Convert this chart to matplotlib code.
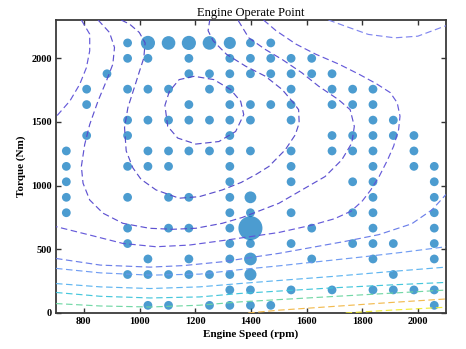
import matplotlib
matplotlib.use('Agg')
import matplotlib.pyplot as plt

plt.rcParams['font.family'] = ['Liberation Serif', 'DejaVu Serif']

# ---------------- operating point data ----------------
speed_grid = [737, 810, 883, 957, 1030, 1104, 1177, 1251, 1324, 1398,
              1471, 1544, 1618, 1691, 1765, 1838, 1911, 1985, 2058]
torque_grid = [60, 181, 302, 424, 545, 666, 787, 908, 1030, 1151,
               1272, 1393, 1514, 1636, 1757, 1878, 1999, 2120]

# row index (torque) -> list of column indices (speed) with an operating point
occupied_rows = {
    0: [4, 5, 7, 8, 9, 10, 18],
    1: [8, 9, 11, 13, 15, 16, 17, 18],
    2: [3, 4, 5, 6, 7, 8, 9, 16],
    3: [4, 6, 8, 9, 12, 15, 18],
    4: [3, 8, 9, 11, 14, 15, 16, 18],
    5: [3, 5, 6, 8, 9, 12, 15, 18],
    6: [0, 8, 9, 11, 14, 15, 18],
    7: [0, 3, 5, 6, 8, 9, 15, 18],
    8: [0, 8, 11, 14, 15, 18],
    9: [0, 3, 4, 5, 8, 11, 15, 17, 18],
    10: [0, 4, 5, 6, 7, 8, 9, 11, 13, 14, 15, 17],
    11: [1, 3, 8, 13, 14, 15, 16, 17],
    12: [3, 4, 5, 6, 7, 8, 9, 11, 15, 16],
    13: [1, 6, 8, 9, 10, 11, 13, 14, 15],
    14: [1, 3, 4, 5, 7, 8, 11, 13, 14, 15],
    15: [2, 6, 7, 8, 9, 10, 11, 12, 13],
    16: [3, 4, 6, 8, 9, 10, 11, 12],
    17: [3, 4, 5, 6, 7, 8, 9, 10],
}
# relative dwell counts (default 1)
dwell_counts = {
    (17, 4): 2.6, (17, 5): 2.4, (17, 6): 2.6, (17, 7): 2.4, (17, 8): 1.9,
    (7, 9): 1.8, (5, 9): 7.5, (3, 9): 2.1, (2, 9): 1.9,
}

op_speed, op_torque, op_count = [], [], []
for r, cols in occupied_rows.items():
    for c in cols:
        op_speed.append(speed_grid[c])
        op_torque.append(torque_grid[r])
        op_count.append(dwell_counts.get((r, c), 1.0))

# ---------------- BSFC iso-lines (rpm, Nm) ----------------
iso_1 = [(1196, 1858), (1142, 1832), (1107, 1740), (1091, 1630), (1101, 1465),
         (1137, 1373), (1202, 1326), (1285, 1346), (1345, 1425), (1374, 1557),
         (1363, 1661), (1327, 1753), (1267, 1832), (1196, 1858)]
iso_2 = [(934, 2300), (964, 2268), (999, 2202), (1020, 2120), (1015, 2000),
         (1000, 1900), (985, 1796), (958, 1612), (946, 1455), (952, 1272),
         (976, 1139), (1005, 1050), (1059, 966), (1142, 901), (1214, 913),
         (1297, 966), (1365, 1025), (1420, 1090), (1464, 1150), (1523, 1281),
         (1559, 1399), (1573, 1491), (1571, 1596), (1553, 1649), (1512, 1754),
         (1452, 1858), (1381, 1937), (1312, 2031), (1264, 2137), (1246, 2216),
         (1252, 2300)]
iso_3 = [(851, 2300), (892, 2202), (910, 2084), (904, 1953), (881, 1822),
         (851, 1665), (821, 1480), (803, 1323), (791, 1150), (797, 1019),
         (821, 887), (869, 783), (940, 704), (1035, 665), (1119, 657),
         (1202, 665), (1297, 704), (1369, 750), (1428, 800), (1500, 861),
         (1583, 966), (1666, 1071), (1726, 1202), (1762, 1334), (1771, 1465),
         (1756, 1596), (1714, 1675), (1643, 1780), (1583, 1885), (1512, 1990),
         (1452, 2068), (1392, 2160), (1353, 2300)]
iso_4a = [(791, 2300), (821, 2189), (821, 2058), (809, 1925), (785, 1795),
          (750, 1665), (700, 1540)]
iso_4b = [(1445, 2300), (1490, 2216), (1562, 2110), (1633, 2031), (1716, 1953),
          (1788, 1874), (1850, 1800), (1900, 1730), (1925, 1650), (1935, 1545),
          (1930, 1440), (1912, 1309), (1890, 1200), (1860, 1071), (1830, 966),
          (1800, 880), (1760, 800), (1700, 740), (1619, 690), (1500, 632),
          (1400, 600), (1297, 568), (1178, 533), (1059, 520), (940, 546),
          (821, 612), (700, 678)]
iso_5a = [(1678, 2300), (1738, 2252), (1821, 2187), (1916, 2160), (1999, 2173),
          (2047, 2212), (2100, 2255)]
iso_5b = [(700, 428), (859, 376), (1038, 360), (1157, 372), (1297, 402),
          (1416, 441), (1500, 468), (1619, 515), (1738, 562), (1859, 615),
          (1977, 700), (2050, 810), (2100, 930)]
iso_6 = [(700, 350), (859, 315), (1038, 297), (1216, 305), (1359, 340),
         (1500, 370), (1650, 405), (1800, 440), (1950, 478), (2100, 520)]
iso_7 = [(700, 231), (859, 205), (1038, 192), (1216, 205), (1359, 231),
         (1500, 255), (1700, 288), (1900, 325), (2100, 360)]
iso_8 = [(700, 161), (859, 131), (1038, 118), (1216, 126), (1359, 153),
         (1500, 172), (1700, 198), (1900, 220), (2100, 240)]
iso_9 = [(700, 74), (859, 55), (1038, 47), (1216, 61), (1359, 87),
         (1500, 105), (1700, 130), (1900, 155), (2100, 180)]
iso_10 = [(1390, 0), (1500, 22), (1700, 52), (1900, 82), (2100, 110)]
iso_11 = [(1740, 0), (1900, 22), (2100, 45)]

iso_lines = [iso_1, iso_2, iso_3, iso_4a, iso_4b, iso_5a, iso_5b,
             iso_6, iso_7, iso_8, iso_9, iso_10, iso_11]
iso_colors = ['#5246c8', '#5246c8', '#5649cf', '#5e52d8', '#5e52d8',
              '#7a80ee', '#6478e8', '#6a98f2', '#58b2f0', '#3cc4da',
              '#6cd6a2', '#f2b848', '#f0ea30']

xticks = [800, 1000, 1200, 1400, 1600, 1800, 2000]
yticks = [0, 500, 1000, 1500, 2000]

# ---------------- figure ----------------
fig = plt.figure(figsize=(4.66, 3.49), dpi=100)
ax = fig.add_axes([0.1202, 0.1032, 0.8368, 0.8395])

ax.scatter(op_speed, op_torque, s=[40 * c for c in op_count],
           color='#0072BD', alpha=0.7, edgecolors='none', zorder=2)

for pts, col in zip(iso_lines, iso_colors):
    xs = [p[0] for p in pts]
    ys = [p[1] for p in pts]
    ax.plot(xs, ys, color=col, lw=0.85, linestyle=(0, (5.5, 3.0)),
            alpha=0.95, zorder=3)

ax.set_xlim(700, 2100)
ax.set_ylim(0, 2300)
ax.set_xticks(xticks)
ax.set_yticks(yticks)
ax.tick_params(direction='in', top=True, right=True, length=3.5, width=1.0,
               color='#333333', labelsize=7.5, pad=3)
for lbl in ax.get_xticklabels() + ax.get_yticklabels():
    lbl.set_fontweight('bold')
for sp in ax.spines.values():
    sp.set_linewidth(1.3)
    sp.set_color('#3a3a3a')

ax.set_xlabel('Engine Speed (rpm)', fontsize=8, fontweight='bold', labelpad=2)
ax.set_ylabel('Torque (Nm)', fontsize=8, fontweight='bold', labelpad=4)
ax.set_title('Engine Operate Point', fontsize=9, pad=3)

fig.savefig('out.png', dpi=100)
